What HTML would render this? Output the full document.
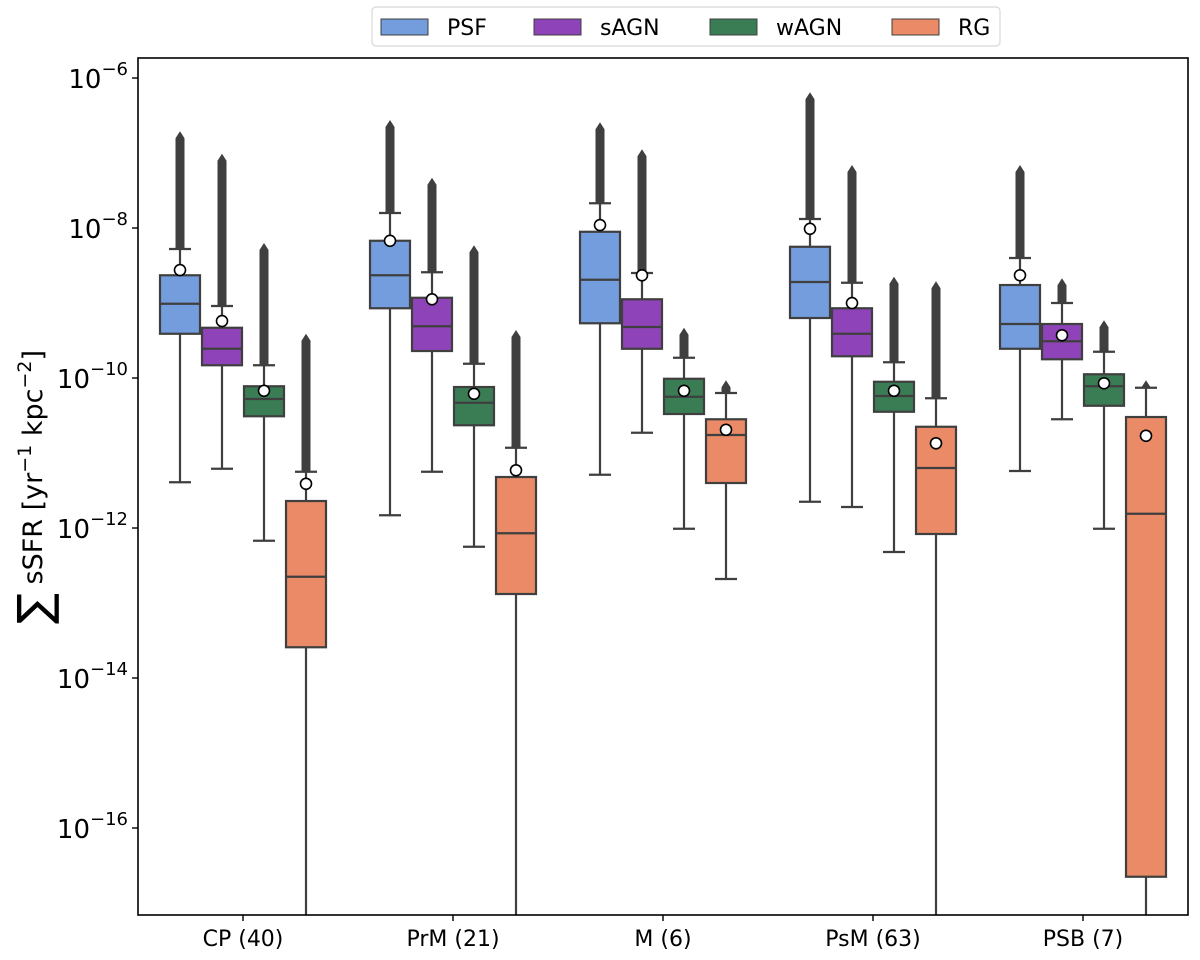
<!DOCTYPE html>
<html><head><meta charset="utf-8"><style>
html,body{margin:0;padding:0;background:#fff;}
svg{display:block;font-family:"DejaVu Sans","Liberation Sans",sans-serif;}
</style></head><body>
<svg id="chart" width="1200" height="960" viewBox="0 0 1200 960">
<g id="plot"></g>
<rect x="138" y="58" width="1050" height="857" fill="none" stroke="#000" stroke-width="1.6"/>
<g id="yaxis"></g>
<g id="xaxis"></g>
<text transform="translate(42,487) rotate(-90)" text-anchor="middle" font-size="27"><tspan font-size="46" dy="8">∑</tspan><tspan dy="-8"> sSFR [yr</tspan><tspan font-size="19" dy="-11">−1</tspan><tspan dy="11"> kpc</tspan><tspan font-size="19" dy="-11">−2</tspan><tspan dy="11">]</tspan></text>
<g>
<rect x="372" y="7" width="628" height="39" rx="4" fill="#fff" stroke="#d8d8d8" stroke-width="1.2"/>
<g id="legend"></g>
</g>
</svg>
<script>
const categories=["CP (40)","PrM (21)","M (6)","PsM (63)","PSB (7)"];
const seriesNames=["PSF","sAGN","wAGN","RG"];
const seriesColors=["#739ddc","#8e44b8","#3a7d55","#ea8a67"];
// log10 values, per series, per category
const whiskerLow={PSF:[-11.39,-11.83,-11.29,-11.65,-11.24],sAGN:[-11.21,-11.25,-10.73,-11.72,-10.55],wAGN:[-12.17,-12.25,-12.01,-12.32,-12.01],RG:[-18,-18,-12.68,-18,-18]};
const q1={PSF:[-9.41,-9.07,-9.27,-9.2,-9.61],sAGN:[-9.83,-9.64,-9.61,-9.71,-9.75],wAGN:[-10.51,-10.63,-10.48,-10.45,-10.37],RG:[-13.59,-12.88,-11.4,-12.08,-16.65]};
const median={PSF:[-9.01,-8.63,-8.69,-8.72,-9.28],sAGN:[-9.61,-9.31,-9.32,-9.41,-9.51],wAGN:[-10.28,-10.33,-10.25,-10.24,-10.11],RG:[-12.65,-12.07,-10.76,-11.2,-11.81]};
const q3={PSF:[-8.63,-8.17,-8.05,-8.25,-8.76],sAGN:[-9.33,-8.93,-8.95,-9.07,-9.28],wAGN:[-10.11,-10.12,-10.01,-10.05,-9.95],RG:[-11.64,-11.32,-10.55,-10.65,-10.52]};
const whiskerHigh={PSF:[-8.28,-7.8,-7.67,-7.88,-8.4],sAGN:[-9.04,-8.59,-8.6,-8.73,-9.0],wAGN:[-9.83,-9.81,-9.73,-9.79,-9.65],RG:[-11.25,-10.93,-10.2,-10.27,-10.13]};
const meanVal={PSF:[-8.56,-8.17,-7.96,-8.01,-8.63],sAGN:[-9.24,-8.95,-8.63,-9.0,-9.43],wAGN:[-10.17,-10.21,-10.17,-10.17,-10.07],RG:[-11.41,-11.23,-10.69,-10.87,-10.77]};
const flierMax={PSF:[-6.71,-6.56,-6.59,-6.19,-7.16],sAGN:[-7.01,-7.33,-6.95,-7.16,-8.67],wAGN:[-8.2,-8.23,-9.33,-8.65,-9.23],RG:[-9.41,-9.36,-10.03,-8.71,-10.03]};
const yTicks=[-6,-8,-10,-12,-14,-16];

const NS="http://www.w3.org/2000/svg";
const X0=138,X1=1188,Y0=58,Y1=915;
const yMin=-17.16,yMax=-5.733;
function yScale(v){return Y1-(v-yMin)/(yMax-yMin)*(Y1-Y0);}
function clampY(y){return Math.max(Y0,Math.min(Y1,y));}
const groupW=(X1-X0)/categories.length;
function groupX(i){return X0+(i+0.5)*groupW;}
const boxW=groupW*0.8/seriesNames.length;
function boxX(i,j){return groupX(i)+(j-(seriesNames.length-1)/2)*boxW;}
function mk(tag,attrs,parent){const e=document.createElementNS(NS,tag);for(const k in attrs)e.setAttribute(k,attrs[k]);parent.appendChild(e);return e;}
const plot=document.getElementById('plot');
const edge="#3f3f3f";
categories.forEach((c,i)=>{
  seriesNames.forEach((s,j)=>{
    const g=mk('g',{},plot);
    
    
    const cx=boxX(i,j);
    const yl=clampY(yScale(whiskerLow[s][i])),yq1=yScale(q1[s][i]),ym=yScale(median[s][i]),yq3=yScale(q3[s][i]),yh=yScale(whiskerHigh[s][i]),yf=yScale(flierMax[s][i]);
    const fl=mk('path',{d:`M${cx-4.5},${yh} L${cx-4.5},${yf+7} L${cx},${yf} L${cx+4.5},${yf+7} L${cx+4.5},${yh} Z`,fill:edge},g);
    
    
    const wl=mk('line',{x1:cx,x2:cx,y1:yq1,y2:yl,stroke:edge,'stroke-width':2.2},g);
    
    
    mk('line',{x1:cx,x2:cx,y1:yq3,y2:yh,stroke:edge,'stroke-width':2.2},g);
    if(whiskerLow[s][i]>yMin) mk('line',{x1:cx-11,x2:cx+11,y1:yl,y2:yl,stroke:edge,'stroke-width':2.2},g);
    mk('line',{x1:cx-11,x2:cx+11,y1:yh,y2:yh,stroke:edge,'stroke-width':2.2},g);
    const r=mk('rect',{x:cx-boxW/2+1,y:yq3,width:boxW-2,height:yq1-yq3,fill:seriesColors[j],stroke:edge,'stroke-width':2.2},g);
    
    
    mk('line',{x1:cx-boxW/2+1,x2:cx+boxW/2-1,y1:ym,y2:ym,stroke:edge,'stroke-width':2.2},g);
    const m=mk('circle',{cx:cx,cy:yScale(meanVal[s][i]),r:5.5,fill:'#fff',stroke:'#000','stroke-width':1.6},g);
    
    
  });
});
const ya=document.getElementById('yaxis');
yTicks.forEach(t=>{
  const y=yScale(t);
  const tk=mk('line',{x1:X0-6,x2:X0,y1:y,y2:y,stroke:'#000','stroke-width':1.4},ya);
  
  
  const tx=mk('text',{x:X0-10,y:y+10,'text-anchor':'end','font-size':26},ya);
  
  
  tx.innerHTML='10<tspan font-size="18" dy="-13">−'+Math.abs(t)+'</tspan>';
});
const xa=document.getElementById('xaxis');
categories.forEach((c,i)=>{
  const x=groupX(i);
  const tk=mk('line',{x1:x,x2:x,y1:Y1,y2:Y1+6,stroke:'#000','stroke-width':1.4},xa);
  
  
  const tx=mk('text',{x:x,y:Y1+31,'text-anchor':'middle','font-size':22},xa);
  
  
  tx.textContent=c;
});
const lg=document.getElementById('legend');
const lgX=[381,534,710,892];
seriesNames.forEach((s,j)=>{
  const g=mk('g',{},lg);
  
  
  mk('rect',{x:lgX[j],y:19,width:47,height:16,fill:seriesColors[j],stroke:edge,'stroke-width':1},g);
  const t=mk('text',{x:lgX[j]+66,y:35,'font-size':22},g);
  t.textContent=s;
});
</script>
</body></html>
